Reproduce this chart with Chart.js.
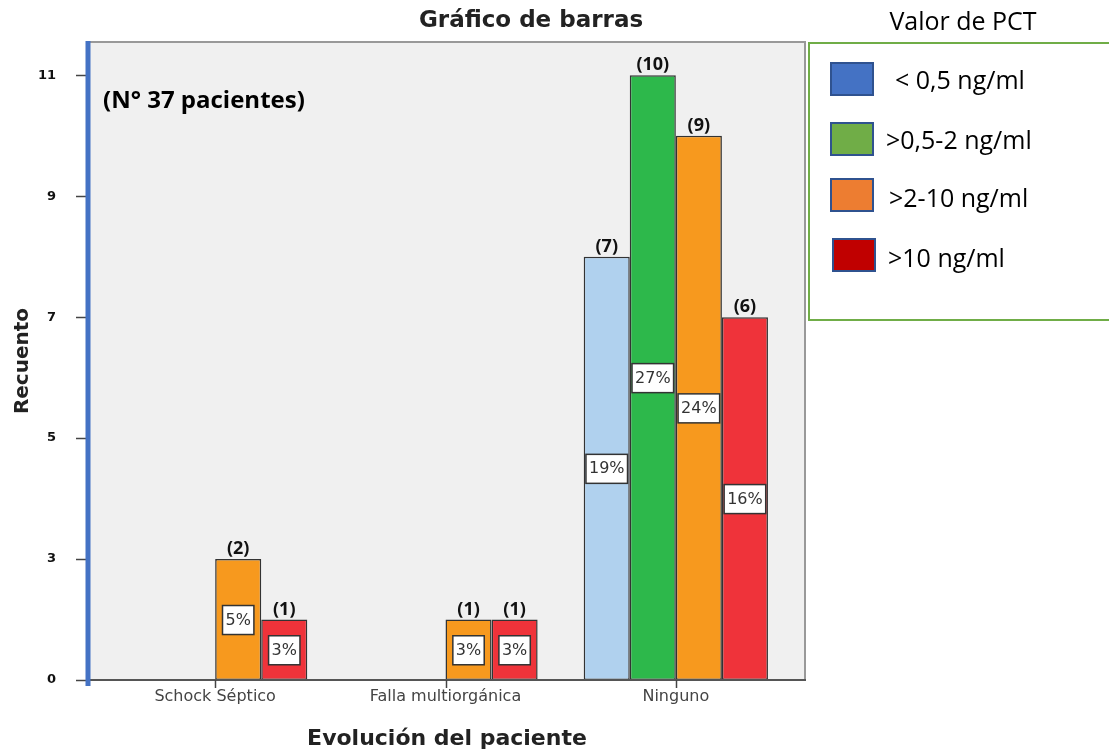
<!DOCTYPE html>
<html>
<head>
<meta charset="utf-8">
<script src="https://cdn.jsdelivr.net/npm/chart.js@4"></script>
<style>
  body { margin: 0; background: #fff; }
  #wrap { position: relative; width: 1109px; height: 751px; }
  .txt { position: absolute; white-space: nowrap; color: #000; }
  .leg { position: absolute; white-space: nowrap; height: 34px; line-height: 34px; font: 25px "Open Sans", Lato, sans-serif; color: #000; }
  .sq { position: absolute; width: 40px; height: 30px; border: 2px solid #2f528f; }
</style>
</head>
<body>
<div id="wrap">
  <canvas id="myChart"></canvas>
  <div class="txt" style="left:381px;top:6px;width:300px;text-align:center;font:bold 23px 'DejaVu Sans',Verdana,sans-serif;color:#222">Gráfico de barras</div>
  <div class="txt" style="left:103px;top:82px;font:bold 24px 'Open Sans',Lato,sans-serif">(N° 37 pacientes)</div>
  <div class="txt" style="left:-37px;top:347px;width:120px;height:28px;line-height:28px;transform:rotate(-90deg);text-align:center;font:bold 20px 'DejaVu Sans',Verdana,sans-serif;color:#222">Recuento</div>
  <div class="txt" style="left:247px;top:725px;width:400px;text-align:center;font:bold 22px 'DejaVu Sans',Verdana,sans-serif;color:#222">Evolución del paciente</div>

  <div class="txt" style="left:863px;top:3px;width:200px;text-align:center;font:25px 'Open Sans',Lato,sans-serif">Valor de PCT</div>
  <div style="position:absolute;left:808px;top:42px;width:310px;height:279px;border:2px solid #70ad47;box-sizing:border-box"></div>
  <div class="sq" style="left:830px;top:62px;background:#4472c4"></div>
  <div class="leg" style="left:895px;top:62px">&lt; 0,5 ng/ml</div>
  <div class="sq" style="left:830px;top:122px;background:#70ad47"></div>
  <div class="leg" style="left:886px;top:122px">&gt;0,5-2 ng/ml</div>
  <div class="sq" style="left:830px;top:178px;background:#ed7d31"></div>
  <div class="leg" style="left:889px;top:180px">&gt;2-10 ng/ml</div>
  <div class="sq" style="left:832px;top:238px;background:#c00000"></div>
  <div class="leg" style="left:888px;top:240px">&gt;10 ng/ml</div>
</div>
<script>
var categories = ["Schock Séptico", "Falla multiorgánica", "Ninguno"];
var seriesNames = ["< 0,5 ng/ml", ">0,5-2 ng/ml", ">2-10 ng/ml", ">10 ng/ml"];
var lowPct = [null, null, 7];
var midPct = [null, null, 10];
var highPct = [2, 1, 9];
var veryHighPct = [1, 1, 6];
var lowShare = [null, null, "19%"];
var midShare = [null, null, "27%"];
var highShare = ["5%", "3%", "24%"];
var veryHighShare = ["3%", "3%", "16%"];
// the y tick labels of the original do not match the bar heights, kept as printed
var yTickValues = [0, 2, 4, 6, 8, 10];
var yTickLabels = ["0", "3", "5", "7", "9", "11"];

var shares = [lowShare, midShare, highShare, veryHighShare];

var framePlugin = {
  id: 'frame',
  beforeDatasetsDraw: function(chart) {
    var c = chart.ctx, a = chart.chartArea;
    c.save();
    c.fillStyle = '#f0f0f0';
    c.fillRect(90, a.top, 715, a.bottom - a.top);
    c.restore();
  },
  afterDatasetsDraw: function(chart) {
    var c = chart.ctx, a = chart.chartArea;
    var ys = chart.scales.y, xs = chart.scales.x;
    c.save();
    c.strokeStyle = '#999';
    c.lineWidth = 2;
    c.beginPath();
    c.moveTo(90, a.top); c.lineTo(805, a.top); c.lineTo(805, a.bottom);
    c.stroke();
    c.strokeStyle = '#555';
    c.beginPath();
    c.moveTo(88, a.bottom); c.lineTo(806, a.bottom);
    c.stroke();
    c.lineWidth = 1.5;
    c.strokeStyle = '#444';
    yTickValues.forEach(function(v) {
      var py = Math.round(ys.getPixelForValue(v)) + 0.5;
      c.beginPath(); c.moveTo(76, py); c.lineTo(86, py); c.stroke();
    });
    categories.forEach(function(cat, i) {
      var px = Math.round(xs.getPixelForValue(i)) + 0.5;
      c.beginPath(); c.moveTo(px, a.bottom); c.lineTo(px, a.bottom + 8); c.stroke();
    });
    c.strokeStyle = '#4472c4';
    c.lineWidth = 5;
    c.beginPath(); c.moveTo(88, a.top - 1); c.lineTo(88, a.bottom + 6); c.stroke();

    // count and percentage labels
    chart.data.datasets.forEach(function(ds, i) {
      var meta = chart.getDatasetMeta(i);
      meta.data.forEach(function(bar, j) {
        var v = ds.data[j];
        if (v == null) return;
        c.fillStyle = '#111';
        c.font = 'bold 18px "Open Sans", Lato, sans-serif';
        c.textAlign = 'center';
        c.textBaseline = 'bottom';
        c.fillText('(' + v + ')', bar.x, bar.y - 1);
        var s = shares[i][j];
        if (!s) return;
        c.font = '16px "DejaVu Sans", Verdana, sans-serif';
        var w = c.measureText(s).width + 6;
        var my = (bar.y + bar.base) / 2;
        c.fillStyle = '#fff';
        c.fillRect(bar.x - w / 2, my - 14, w, 29);
        c.strokeStyle = '#333';
        c.lineWidth = 1.5;
        c.strokeRect(bar.x - w / 2, my - 14, w, 29);
        c.fillStyle = '#333';
        c.textBaseline = 'middle';
        c.fillText(s, bar.x, my + 1);
      });
    });
    c.restore();
  }
};

var ctx = document.getElementById("myChart");

var myChart = new Chart(ctx, {
  type: 'bar',
  data: {
    labels: categories,
    datasets: [
      { label: seriesNames[0], data: lowPct, backgroundColor: '#b0d1ee' },
      { label: seriesNames[1], data: midPct, backgroundColor: '#2db84b' },
      { label: seriesNames[2], data: highPct, backgroundColor: '#f7991e' },
      { label: seriesNames[3], data: veryHighPct, backgroundColor: '#ef333a' }
    ]
  },
  options: {
    responsive: true,
    maintainAspectRatio: false,
    animation: false,
    layout: { padding: { left: 0, top: 42, right: 318, bottom: 0 } },
    datasets: {
      bar: {
        categoryPercentage: 0.8,
        barPercentage: 1.0,
        borderColor: '#333',
        borderWidth: 1.5,
        borderSkipped: false
      }
    },
    plugins: {
      legend: { display: false },
      tooltip: { enabled: false }
    },
    scales: {
      x: {
        grid: { display: false, drawTicks: false },
        border: { display: false },
        ticks: {
          padding: 7,
          color: '#444',
          font: { family: '"DejaVu Sans", Verdana, sans-serif', size: 16 }
        },
        afterFit: function(s) { s.height = 71; s.paddingLeft = 0; s.paddingRight = 0; }
      },
      y: {
        min: 0,
        max: 10.55,
        grid: { display: false, drawTicks: false },
        border: { display: false },
        afterBuildTicks: function(s) {
          s.ticks = yTickValues.map(function(v) { return { value: v }; });
        },
        ticks: {
          padding: 44,
          color: '#111',
          font: { family: '"DejaVu Sans", Verdana, sans-serif', size: 13, weight: 'bold' },
          callback: function(v) { return yTickLabels[yTickValues.indexOf(v)]; }
        },
        afterFit: function(s) { s.width = 100; s.paddingTop = 0; s.paddingBottom = 0; }
      }
    }
  },
  plugins: [framePlugin]
});
</script>
</body>
</html>
